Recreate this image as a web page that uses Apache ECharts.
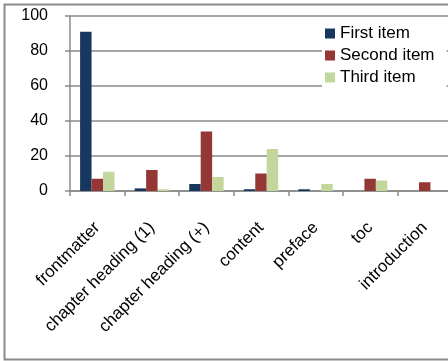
<!DOCTYPE html>
<html>
<head>
<meta charset="utf-8">
<script src="https://cdn.jsdelivr.net/npm/echarts@6/dist/echarts.min.js"></script>
<style>
  html, body { margin: 0; padding: 0; background: #fff; }
  #chart { width: 448px; height: 361px; }
</style>
</head>
<body>
<div id="chart"></div>
<script>
// Element categories and per-item counts
const categories = ['frontmatter', 'chapter heading (1)', 'chapter heading (+)', 'content', 'preface', 'toc', 'introduction'];
const seriesNames = ['First item', 'Second item', 'Third item'];
const firstItem  = [91, 1.5, 4, 1, 1, 0, 0];
const secondItem = [7, 12, 34, 10, 0, 7, 5];
const thirdItem  = [11, 1, 8, 24, 4, 6, 0];
const yTicks = { min: 0, max: 100, interval: 20 };

const colors = ['#17375E', '#953735', '#C3D69B'];
const gray = '#8a8a8a';
const font = 'Liberation Sans';

const chart = echarts.init(document.getElementById('chart'), null, { renderer: 'canvas' });
const values = [firstItem, secondItem, thirdItem];

chart.setOption({
  animation: false,
  backgroundColor: '#fff',
  // outer chart frame (its right side runs past the canvas)
  graphic: [{
    type: 'rect',
    shape: { x: 4.5, y: 4.5, width: 470, height: 355 },
    style: { fill: 'none', stroke: gray, lineWidth: 2 },
    z: -1
  }],
  // the plot runs slightly past the right edge of the canvas
  grid: { left: 70, top: 16, width: 382, height: 175, containLabel: false, outerBoundsMode: 'none' },
  legend: {
    orient: 'vertical',
    left: 322,
    top: 21,
    padding: [4, 12, 4, 3],
    backgroundColor: '#fff',
    itemWidth: 10,
    itemHeight: 10,
    itemGap: 5,
    icon: 'rect',
    textStyle: { fontFamily: font, fontSize: 17, color: '#000' },
    data: seriesNames
  },
  xAxis: {
    type: 'category',
    data: categories,
    axisLine: { lineStyle: { color: gray, width: 1.5 } },
    axisTick: { show: true, length: 5, lineStyle: { color: gray, width: 1.5 } },
    axisLabel: {
      interval: 0,
      rotate: 45,
      margin: 34,
      fontFamily: font,
      fontSize: 17,
      color: '#000'
    }
  },
  yAxis: {
    type: 'value',
    min: yTicks.min,
    max: yTicks.max,
    interval: yTicks.interval,
    axisLine: { show: true, lineStyle: { color: gray, width: 1.5 } },
    axisTick: { show: true, length: 5, lineStyle: { color: gray, width: 1.5 } },
    splitLine: { lineStyle: { color: gray, width: 1.5 } },
    axisLabel: { margin: 22, fontFamily: font, fontSize: 16, color: '#000' }
  },
  series: seriesNames.map((name, i) => ({
    name,
    type: 'bar',
    data: values[i],
    barGap: '0%',
    barCategoryGap: '37%',
    itemStyle: { color: colors[i] },
    z: 2
  }))
});
</script>
</body>
</html>
